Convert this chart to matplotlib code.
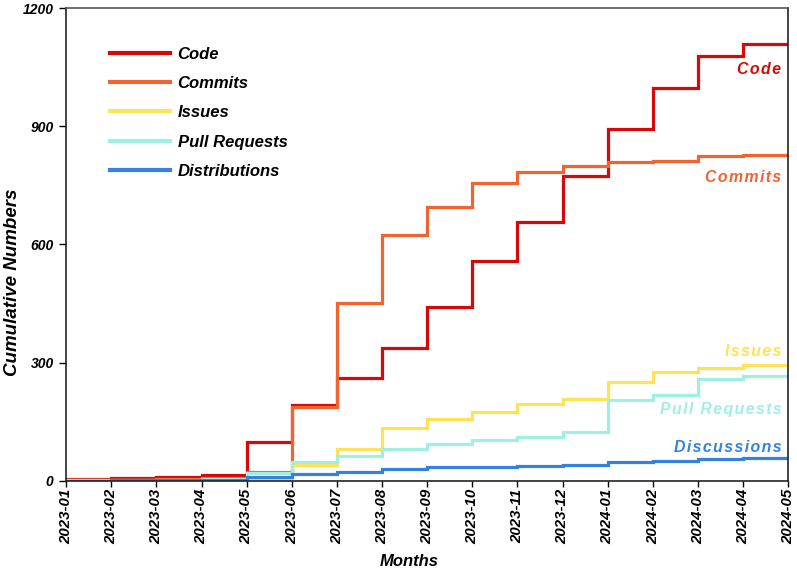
import matplotlib
matplotlib.use("Agg")
import matplotlib.pyplot as plt
import numpy as np

months = ["2023-01", "2023-02", "2023-03", "2023-04", "2023-05", "2023-06",
          "2023-07", "2023-08", "2023-09", "2023-10", "2023-11", "2023-12",
          "2024-01", "2024-02", "2024-03", "2024-04", "2024-05"]

# value for each month interval (start month 2023-01 ... 2024-04)
code = [5, 7, 10, 14, 99, 193, 262, 338, 442, 557, 656, 773, 892, 997, 1078, 1108]
commits = [2, 3, 4, 6, 22, 186, 450, 623, 694, 757, 783, 799, 809, 811, 824, 826]
issues = [1, 1, 2, 3, 6, 39, 81, 135, 156, 175, 196, 208, 251, 277, 285, 295]
pull_requests = [1, 2, 3, 4, 19, 47, 64, 81, 94, 104, 112, 125, 206, 217, 259, 267]
distributions = [0, 1, 1, 2, 10, 16, 23, 30, 34, 36, 38, 41, 47, 51, 55, 58]

series = [
    ("Code", code, "#d40a0a"),
    ("Commits", commits, "#f06432"),
    ("Issues", issues, "#ffe257"),
    ("Pull Requests", pull_requests, "#9ff0e2"),
    ("Distributions", distributions, "#3482dc"),
]

end_labels = [("Code", 1043, "#d40a0a"),
              ("Commits", 770, "#f06432"),
              ("Issues", 328, "#ffe257"),
              ("Pull Requests", 182, "#9ff0e2"),
              ("Discussions", 85, "#3482dc")]

plt.rcParams['font.family'] = ['Liberation Sans', 'DejaVu Sans']


def spaced(s):
    return "\u200a".join(s)


fig = plt.figure(figsize=(7.97, 5.73), dpi=100)
ax = fig.add_axes([0.083, 0.161, 0.906, 0.825])

x = np.arange(len(months))
for name, vals, col in series:
    y = np.append(vals, vals[-1])
    ax.plot(x, y, drawstyle="steps-post", color=col, lw=2.3, label=name,
            solid_joinstyle="miter")

for name, yv, col in end_labels:
    ax.text(len(months) - 1.15, yv, spaced(name), color=col, ha="right",
            va="center", fontsize=11.4, fontweight="bold", fontstyle="italic")

ax.set_xlim(0, len(months) - 1)
ax.set_ylim(0, 1200)
ax.set_yticks([0, 300, 600, 900, 1200])
ax.set_yticklabels(["0", "300", "600", "900", "1200"], fontsize=10,
                   fontweight="bold", fontstyle="italic")
ax.set_xticks(x)
ax.set_xticklabels(months, rotation=90, fontsize=10.8, fontweight="bold",
                   fontstyle="italic")
ax.tick_params(axis="y", direction="out", length=5, width=1, pad=4)
ax.tick_params(axis="x", direction="out", length=4, width=1, pad=2)

ax.set_xlabel("Months", fontsize=12, fontweight="bold", fontstyle="italic")
ax.xaxis.set_label_coords(0.475, -0.156)
ax.set_ylabel("Cumulative Numbers", fontsize=13.5, fontweight="bold",
              fontstyle="italic")
ax.yaxis.set_label_coords(-0.062, 0.42)

for s in ax.spines.values():
    s.set_color("#222222")
    s.set_linewidth(1.2)
ax.spines["top"].set_color("#555555")

leg = ax.legend(loc="upper left", bbox_to_anchor=(0.04, 0.95), frameon=False,
                handlelength=3.6, handletextpad=0.45, labelspacing=0.86,
                prop={"size": 12, "weight": "bold", "style": "italic"})
for line in leg.get_lines():
    line.set_linewidth(3)

fig.savefig("out.png", dpi=100)
